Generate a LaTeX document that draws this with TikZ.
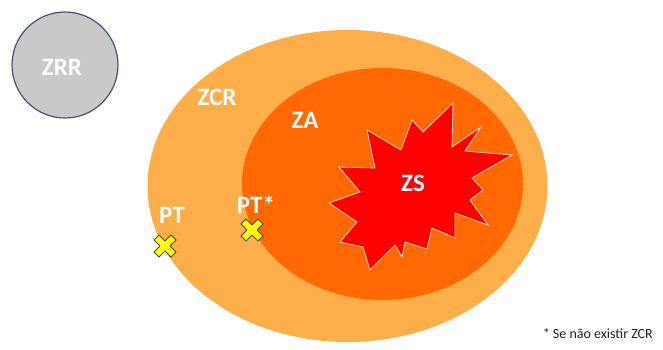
\documentclass[tikz,border=0pt]{standalone}
\usepackage{fontspec}
\setmainfont{Carlito}
\usetikzlibrary{shapes.geometric}

\definecolor{zrrfill}{RGB}{201,201,201}
\definecolor{zrrline}{RGB}{68,84,106}
\definecolor{zcrfill}{RGB}{252,174,74}
\definecolor{zafill}{RGB}{255,104,2}
\definecolor{zsfill}{RGB}{255,0,0}
\definecolor{zsline}{RGB}{255,214,200}
\definecolor{markfill}{RGB}{255,255,0}
\definecolor{markline}{RGB}{70,70,40}
\definecolor{notetext}{RGB}{30,30,30}

\tikzset{
  zonelabel/.style={text=white, font=\fontsize{25}{25}\selectfont\bfseries, inner sep=0pt},
  zonearea/.style={ellipse, draw=none, inner sep=0pt},
  xmark/.style={fill=markfill, draw=markline, line width=0.9pt, line join=round},
}

\begin{document}
\begin{tikzpicture}[x=1pt, y=-1pt]
  \useasboundingbox (0,0) rectangle (663,350);

  % outer ring and inner zone
  \node[zonearea, fill=zcrfill, minimum width=400pt, minimum height=312pt] (zcr) at (347.5,186) {};
  \node[zonearea, fill=zafill, minimum width=281pt, minimum height=232pt] (za) at (382.5,184) {};

  % starburst of the central zone
  \filldraw[fill=zsfill, draw=zsline, line width=0.8pt, line join=miter]
    (453,103) -- (452,147) -- (481,127) -- (465,151) -- (512,155) -- (472,178)
    -- (483,190) -- (470,200) -- (488,225) -- (455,213) -- (455,238) -- (432,228)
    -- (427,249) -- (405,242) -- (402,257) -- (395,245) -- (370,270) -- (363,247)
    -- (340,242) -- (357,222) -- (329,203) -- (360,192) -- (339,167) -- (375,168)
    -- (367,130) -- (401,150) -- (412,120) -- (423,132) -- cycle;

  % separate grey zone
  \node[circle, fill=zrrfill, draw=zrrline, line width=1.2pt, minimum size=106pt, inner sep=0pt] (zrr) at (65,65) {};

  % labels
  \node[zonelabel] (lzrr) at (62,67) {ZRR};
  \node[zonelabel] (lzcr) at (217,97) {ZCR};
  \node[zonelabel] (lza)  at (305,120) {ZA};
  \node[zonelabel] (lzs)  at (413,183) {ZS};
  \node[zonelabel] (lpt)  at (172,215) {PT};
  \node[zonelabel] (lpts) at (256,205) {PT*};

  % point markers
  \foreach \cx/\cy in {165/246, 252/230} {
    \filldraw[xmark, shift={(\cx,\cy)}, rotate=45]
      (-3.6,-12) -- (3.6,-12) -- (3.6,-3.6) -- (12,-3.6) -- (12,3.6) -- (3.6,3.6)
      -- (3.6,12) -- (-3.6,12) -- (-3.6,3.6) -- (-12,3.6) -- (-12,-3.6) -- (-3.6,-3.6) -- cycle;
  }

  % footnote
  \node[anchor=east, text=notetext, font=\fontsize{14}{14}\selectfont, inner sep=0pt] (note) at (653,334) {* Se não existir ZCR};
\end{tikzpicture}
\end{document}
